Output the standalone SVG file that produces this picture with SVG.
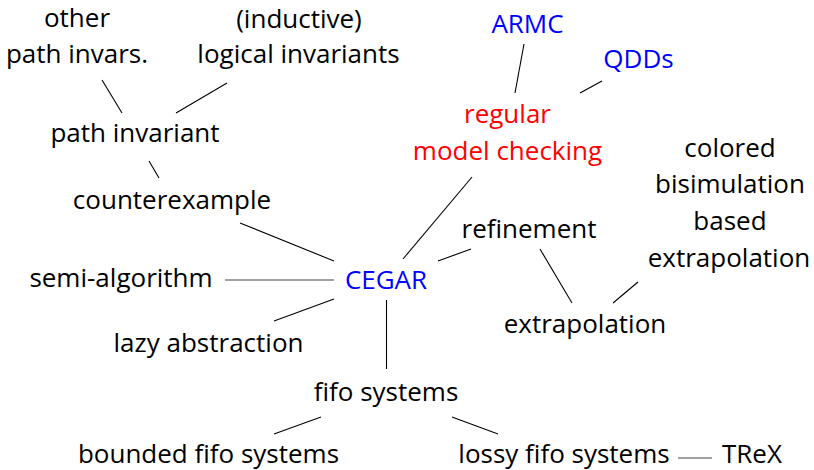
<svg xmlns="http://www.w3.org/2000/svg" width="814" height="470" viewBox="0 0 814 470">
<style>
text{font-family:"Open Sans","Noto Sans","DejaVu Sans",sans-serif;font-size:26px;text-anchor:middle;fill:#000}
.b{fill:#0000ff}
.r{fill:#ff0000}
#edges line{stroke:#000;stroke-width:1.1}
#edges line.g{stroke:#444;stroke-width:1}
</style>
<rect width="814" height="470" fill="#fff"/>
<g id="edges">
<line x1="102" y1="80" x2="122" y2="113"/>
<line x1="227" y1="83" x2="176" y2="113"/>
<line x1="149" y1="161" x2="159" y2="178"/>
<line x1="240" y1="223" x2="334" y2="261"/>
<line class="g" x1="225" y1="280" x2="334" y2="280"/>
<line x1="274" y1="321" x2="334" y2="299"/>
<line x1="386.5" y1="300" x2="386.5" y2="369"/>
<line x1="321" y1="417" x2="274" y2="434"/>
<line x1="452" y1="417" x2="498" y2="434"/>
<line class="g" x1="678" y1="458" x2="712" y2="458"/>
<line x1="438" y1="261" x2="471" y2="249"/>
<line x1="472" y1="177" x2="403" y2="259"/>
<line x1="540" y1="249" x2="572" y2="303"/>
<line x1="638" y1="282" x2="613" y2="303"/>
<line x1="524" y1="44" x2="515" y2="93"/>
<line x1="602" y1="81" x2="580" y2="93"/>
</g>
<g id="other"><text x="77" y="27">other</text><text x="77" y="63">path invars.</text></g>
<g id="logical"><text x="299" y="28">(inductive)</text><text x="298.5" y="63">logical invariants</text></g>
<g id="pathinv"><text x="135" y="142">path invariant</text></g>
<g id="counterexample"><text x="172" y="209">counterexample</text></g>
<g id="semialg"><text x="121" y="287">semi-algorithm</text></g>
<g id="cegar"><text class="b" x="386" y="289">CEGAR</text></g>
<g id="lazy"><text x="208.5" y="352">lazy abstraction</text></g>
<g id="fifo"><text x="386" y="401">fifo systems</text></g>
<g id="bounded"><text x="208.5" y="463">bounded fifo systems</text></g>
<g id="lossy"><text x="564" y="463">lossy fifo systems</text></g>
<g id="trex"><text x="752" y="463">TReX</text></g>
<g id="refinement"><text x="529" y="238">refinement</text></g>
<g id="extrap"><text x="585" y="333">extrapolation</text></g>
<g id="colored"><text x="730" y="157">colored</text><text x="730" y="193">bisimulation</text><text x="730" y="230">based</text><text x="729" y="267">extrapolation</text></g>
<g id="armc"><text class="b" x="527.5" y="33">ARMC</text></g>
<g id="qdds"><text class="b" x="638.5" y="68">QDDs</text></g>
<g id="rmc"><text class="r" x="507.5" y="123">regular</text><text class="r" x="507.5" y="160">model checking</text></g>
</svg>
